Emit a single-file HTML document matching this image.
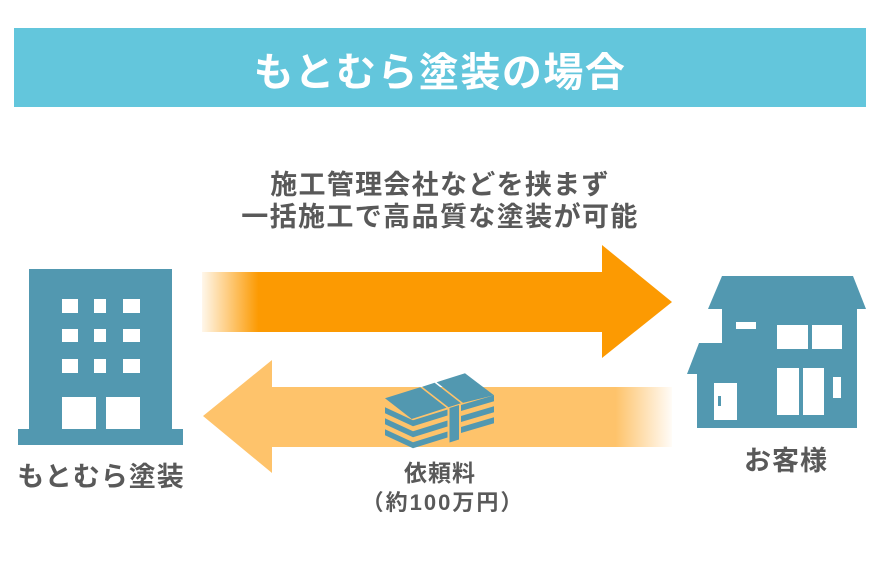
<!DOCTYPE html>
<html><head><meta charset="utf-8"><style>
html,body{margin:0;padding:0;background:#fff;}
svg{display:block;}
text{font-family:"Liberation Sans","Noto Sans CJK JP",sans-serif;font-weight:bold;}
</style></head><body>
<svg width="880" height="580" viewBox="0 0 880 580" xmlns="http://www.w3.org/2000/svg">
<defs>
<linearGradient id="g1" gradientUnits="userSpaceOnUse" x1="202" y1="0" x2="672" y2="0">
<stop offset="0" stop-color="#fc9a02" stop-opacity="0.08"/>
<stop offset="0.12" stop-color="#fc9a02" stop-opacity="1"/>
<stop offset="1" stop-color="#fc9a02" stop-opacity="1"/>
</linearGradient>
<linearGradient id="g2" gradientUnits="userSpaceOnUse" x1="203" y1="0" x2="672" y2="0">
<stop offset="0" stop-color="#fec36b" stop-opacity="1"/>
<stop offset="0.88" stop-color="#fec36b" stop-opacity="1"/>
<stop offset="1" stop-color="#fec36b" stop-opacity="0.05"/>
</linearGradient>
</defs>
<rect x="0" y="0" width="880" height="580" fill="#fff"/>
<!-- header -->
<rect x="14" y="28" width="852" height="79" fill="#63c6dc"/>
<text x="440" y="86" font-size="40" fill="#fff" text-anchor="middle" letter-spacing="1.5">もとむら塗装の場合</text>
<!-- subtitle -->
<text x="440" y="194" font-size="27" fill="#595959" text-anchor="middle" letter-spacing="1.3">施工管理会社などを挟まず</text>
<text x="440" y="226" font-size="27" fill="#595959" text-anchor="middle" letter-spacing="1.4">一括施工で高品質な塗装が可能</text>
<!-- arrows -->
<path d="M202,272 L602,272 L602,245 L672,302 L602,358 L602,332 L202,332 Z" fill="url(#g1)"/>
<path d="M203,416 L272,360 L272,387 L672,387 L672,447 L272,447 L272,473 Z" fill="url(#g2)"/>
<!-- building -->
<g fill="#5298b0">
<rect x="29" y="269" width="143" height="161"/>
<rect x="18" y="429" width="165" height="16"/>
</g>
<g fill="#fff">
<rect x="62" y="299" width="16" height="14"/><rect x="94" y="299" width="12" height="14"/><rect x="123" y="299" width="17" height="14"/>
<rect x="62" y="329" width="16" height="13"/><rect x="94" y="329" width="12" height="13"/><rect x="123" y="329" width="17" height="13"/>
<rect x="62" y="359" width="16" height="14"/><rect x="94" y="359" width="12" height="14"/><rect x="123" y="359" width="17" height="14"/>
<rect x="62" y="397" width="34" height="32"/><rect x="106" y="397" width="34" height="32"/>
</g>
<text x="101" y="486" font-size="27" fill="#595959" text-anchor="middle" letter-spacing="1">もとむら塗装</text>
<!-- house -->
<g fill="#5298b0">
<polygon points="708,309 722,276 853,276 866,309"/>
<rect x="722" y="308" width="135" height="120"/>
<polygon points="687,374 699,343 723,343 723,374"/>
<rect x="697" y="373" width="26" height="55"/>
</g>
<g fill="#fff">
<rect x="736" y="322" width="20" height="7"/>
<rect x="777" y="325" width="31" height="24"/><rect x="812" y="325" width="30" height="24"/>
<rect x="777" y="368" width="22" height="47"/><rect x="803" y="368" width="21" height="47"/>
<rect x="833" y="377" width="8" height="21"/>
<rect x="714" y="383" width="23" height="37"/>
</g>
<rect x="718" y="396" width="3" height="10" fill="#5298b0"/>
<text x="786" y="470" font-size="27" fill="#595959" text-anchor="middle" letter-spacing="1">お客様</text>
<!-- money -->
<g fill="#5298b0">
<polygon points="385,398.3 420.2,387.3 446.5,407.8 411.7,419"/>
<polygon points="422.2,386.7 434.6,382.8 460.9,403.3 448.5,407.2"/>
<polygon points="436.6,382.2 465,373.3 494,395.3 463,402.9"/>
<polygon points="385,407.3 413,420.3 447.5,409.5 447.5,415.5 413,426.3 385,413.3"/>
<polygon points="385,418.3 413,431.3 447.5,420.5 447.5,426.5 413,437.3 385,424.3"/>
<polygon points="385,429.3 413,442.3 447.5,431.5 447.5,437.5 413,448.3 385,435.3"/>
<polygon points="461,405 494,395.3 494,401.3 461,411"/>
<polygon points="461,416 494,406.3 494,412.3 461,422"/>
<polygon points="461,427 494,417.3 494,423.3 461,433"/>
<polygon points="449.5,408 459,405 459,439.5 449.5,442.5"/>
</g>
<text x="440" y="481" font-size="23" fill="#595959" text-anchor="middle" letter-spacing="1">依頼料</text>
<text x="443" y="510" font-size="22" fill="#595959" text-anchor="middle" letter-spacing="2">（約100万円）</text>
</svg>
</body></html>
